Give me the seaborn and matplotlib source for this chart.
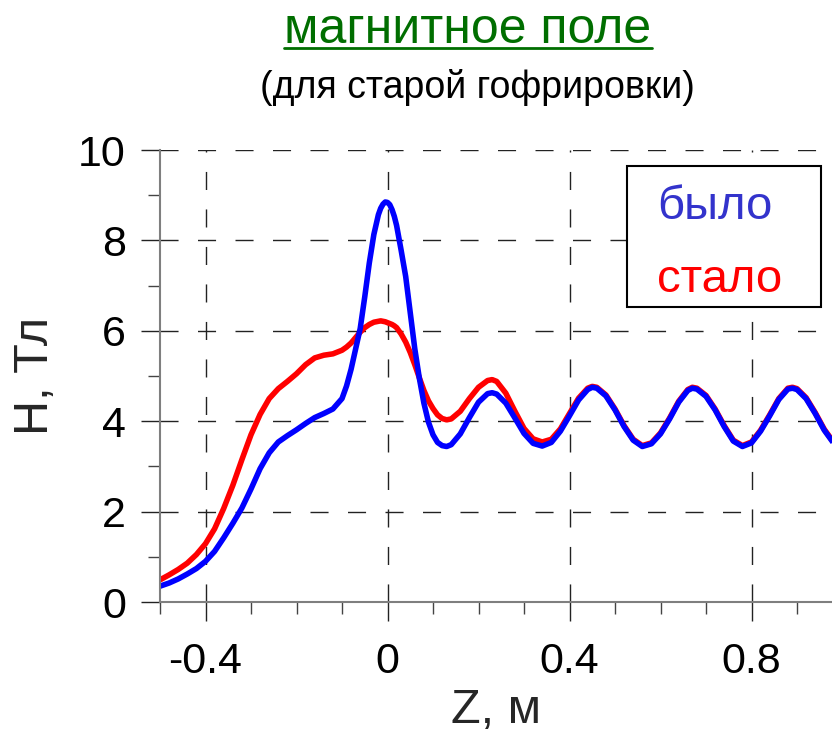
import matplotlib
matplotlib.use("Agg")
import matplotlib.pyplot as plt
import pandas as pd
import seaborn as sns
from matplotlib.lines import Line2D
from matplotlib.patches import Rectangle
from matplotlib.ticker import FixedLocator

# ---------------- data ----------------
z = [-0.50, -0.48, -0.46, -0.44, -0.42, -0.40, -0.38, -0.36, -0.34, -0.32,
     -0.30, -0.28, -0.26, -0.24, -0.22, -0.20, -0.18, -0.16, -0.14, -0.12,
     -0.10, -0.09, -0.08, -0.07, -0.06, -0.05, -0.04, -0.03, -0.02, -0.015,
     -0.01, -0.005, 0.00, 0.005, 0.01, 0.015, 0.02, 0.03, 0.04, 0.05,
     0.06, 0.07, 0.08, 0.09,
     0.10, 0.11, 0.12, 0.13, 0.14, 0.16, 0.18, 0.20, 0.22, 0.23,
     0.24, 0.26, 0.28, 0.30, 0.32, 0.34, 0.36, 0.38, 0.40, 0.42,
     0.44, 0.45, 0.46, 0.48, 0.50, 0.52, 0.54, 0.56, 0.58, 0.60,
     0.62, 0.64, 0.66, 0.67, 0.68, 0.70, 0.72, 0.74, 0.76, 0.78,
     0.80, 0.82, 0.84, 0.86, 0.88, 0.89, 0.90, 0.92, 0.94, 0.96, 0.98]

bylo = [0.35, 0.42, 0.51, 0.62, 0.74, 0.90, 1.12, 1.42, 1.74, 2.08,
        2.50, 2.95, 3.30, 3.54, 3.68, 3.81, 3.95, 4.08, 4.17, 4.27,
        4.50, 4.78, 5.15, 5.60, 6.05, 6.75, 7.50, 8.13, 8.57, 8.71,
        8.80, 8.85, 8.84, 8.79, 8.68, 8.53, 8.33, 7.78, 7.20, 6.40,
        5.60, 4.95, 4.40, 3.98,
        3.70, 3.53, 3.46, 3.44, 3.48, 3.72, 4.08, 4.42, 4.61, 4.63,
        4.60, 4.40, 4.07, 3.73, 3.51, 3.45, 3.53, 3.78, 4.12, 4.47,
        4.70, 4.75, 4.73, 4.56, 4.25, 3.88, 3.58, 3.44, 3.50, 3.72,
        4.05, 4.42, 4.68, 4.73, 4.71, 4.55, 4.25, 3.88, 3.56, 3.44,
        3.52, 3.78, 4.12, 4.48, 4.71, 4.73, 4.70, 4.50, 4.17, 3.80, 3.52]

stalo = [0.49, 0.60, 0.72, 0.86, 1.05, 1.29, 1.62, 2.07, 2.58, 3.15,
         3.70, 4.15, 4.50, 4.72, 4.88, 5.05, 5.25, 5.40, 5.46, 5.49,
         5.57, 5.64, 5.73, 5.85, 5.97, 6.07, 6.14, 6.19, 6.21, 6.22,
         6.21, 6.20, 6.18, 6.16, 6.14, 6.11, 6.07, 5.93, 5.75, 5.52,
         5.25, 4.96, 4.68, 4.45,
         4.28, 4.14, 4.06, 4.03, 4.05, 4.22, 4.50, 4.75, 4.90, 4.92,
         4.88, 4.62, 4.22, 3.84, 3.61, 3.54, 3.60, 3.83, 4.17, 4.51,
         4.73, 4.77, 4.75, 4.58, 4.27, 3.90, 3.60, 3.46, 3.52, 3.74,
         4.07, 4.44, 4.70, 4.75, 4.73, 4.57, 4.27, 3.90, 3.58, 3.46,
         3.54, 3.80, 4.14, 4.50, 4.73, 4.75, 4.72, 4.52, 4.19, 3.82, 3.54]

series_names = ["было", "стало"]
x_ticks = [-0.4, 0.0, 0.4, 0.8]
x_tick_labels = ["-0.4", "0", "0.4", "0.8"]
x_minor = [-0.5, -0.3, -0.2, -0.1, 0.1, 0.2, 0.3, 0.5, 0.6, 0.7, 0.9]
y_ticks = [0, 2, 4, 6, 8, 10]
y_tick_labels = ["0", "2", "4", "6", "8", "10"]
y_minor = [1, 3, 5, 7, 9]
title_text = "магнитное поле"
subtitle_text = "(для старой гофрировки)"
x_label = "Z, м"
y_label = "H, Тл"

# ---------------- style ----------------
sns.set_style("ticks")
plt.rcParams["font.family"] = ["Liberation Sans", "DejaVu Sans"]

df = pd.DataFrame({
    "z": z + z,
    "H": stalo + bylo,
    "series": [series_names[1]] * len(z) + [series_names[0]] * len(z),
})

W, H = 832, 736
fig = plt.figure(figsize=(W / 100, H / 100), dpi=100)
ax = fig.add_axes([160 / W, (H - 602) / H, (W - 160) / W, (602 - 150) / H])

colors = {series_names[0]: "#0000ff", series_names[1]: "#ff0000"}
sns.lineplot(data=df, x="z", y="H", hue="series",
             hue_order=[series_names[1], series_names[0]],
             palette=colors, linewidth=4.0, legend=False,
             estimator=None, sort=False, ax=ax,
             solid_joinstyle="round", solid_capstyle="butt")

ax.set_xlim(-0.5, -0.5 + 672 / 455)
ax.set_ylim(0, 10)

ax.xaxis.set_major_locator(FixedLocator(x_ticks))
ax.set_xticklabels(x_tick_labels)
ax.xaxis.set_minor_locator(FixedLocator(x_minor))
ax.yaxis.set_major_locator(FixedLocator(y_ticks))
ax.set_yticklabels(y_tick_labels)
ax.yaxis.set_minor_locator(FixedLocator(y_minor))

ax.set_axisbelow(True)
ax.grid(True, which="major", color="#222222", linewidth=1.0,
        linestyle=(0, (13, 14)))

for s in ["top", "right"]:
    ax.spines[s].set_visible(False)
for s in ["left", "bottom"]:
    ax.spines[s].set_color("#7f7f7f")
    ax.spines[s].set_linewidth(1.5)

ax.tick_params(which="major", direction="out", length=13.5, width=1.0,
               color="#222222", labelsize=31, labelcolor="black")
ax.tick_params(axis="x", which="major", pad=15)
ax.tick_params(axis="y", which="major", pad=11)
ax.tick_params(which="minor", direction="out", length=8.5, width=1.0,
               color="#444444")

ax.set_xlabel(x_label, fontsize=35)
ax.set_ylabel(y_label, fontsize=35)
ax.xaxis.set_label_coords(0.5, (602 - 688) / 452)
ax.yaxis.set_label_coords((58 - 160) / 672, 0.5)

# legend box with coloured labels
ax.add_patch(Rectangle(((627 - 160) / 672, (602 - 307) / 452),
                       (821 - 627) / 672, (307 - 166) / 452,
                       transform=ax.transAxes, facecolor="white",
                       edgecolor="black", linewidth=1.5, zorder=5,
                       clip_on=False))
ax.text((657 - 160) / 672, (602 - 207) / 452, series_names[0],
        transform=ax.transAxes, color="#3333cc", fontsize=34,
        ha="left", va="center", zorder=6)
ax.text((657 - 160) / 672, (602 - 280) / 452, series_names[1],
        transform=ax.transAxes, color="#ff0000", fontsize=34,
        ha="left", va="center", zorder=6)

# titles
green = "#006e00"
t = fig.text(468 / W, 1 - 30 / H, title_text, color=green, fontsize=36,
             ha="center", va="center")
fig.text(477 / W, 1 - 87 / H, subtitle_text, color="black", fontsize=27,
         ha="center", va="center")

fig.canvas.draw()
bb = t.get_window_extent()
fig.add_artist(Line2D([bb.x0 / W, bb.x1 / W], [1 - 48 / H, 1 - 48 / H],
                      transform=fig.transFigure, color=green, linewidth=2.0))

fig.savefig("out.png", dpi=100)
